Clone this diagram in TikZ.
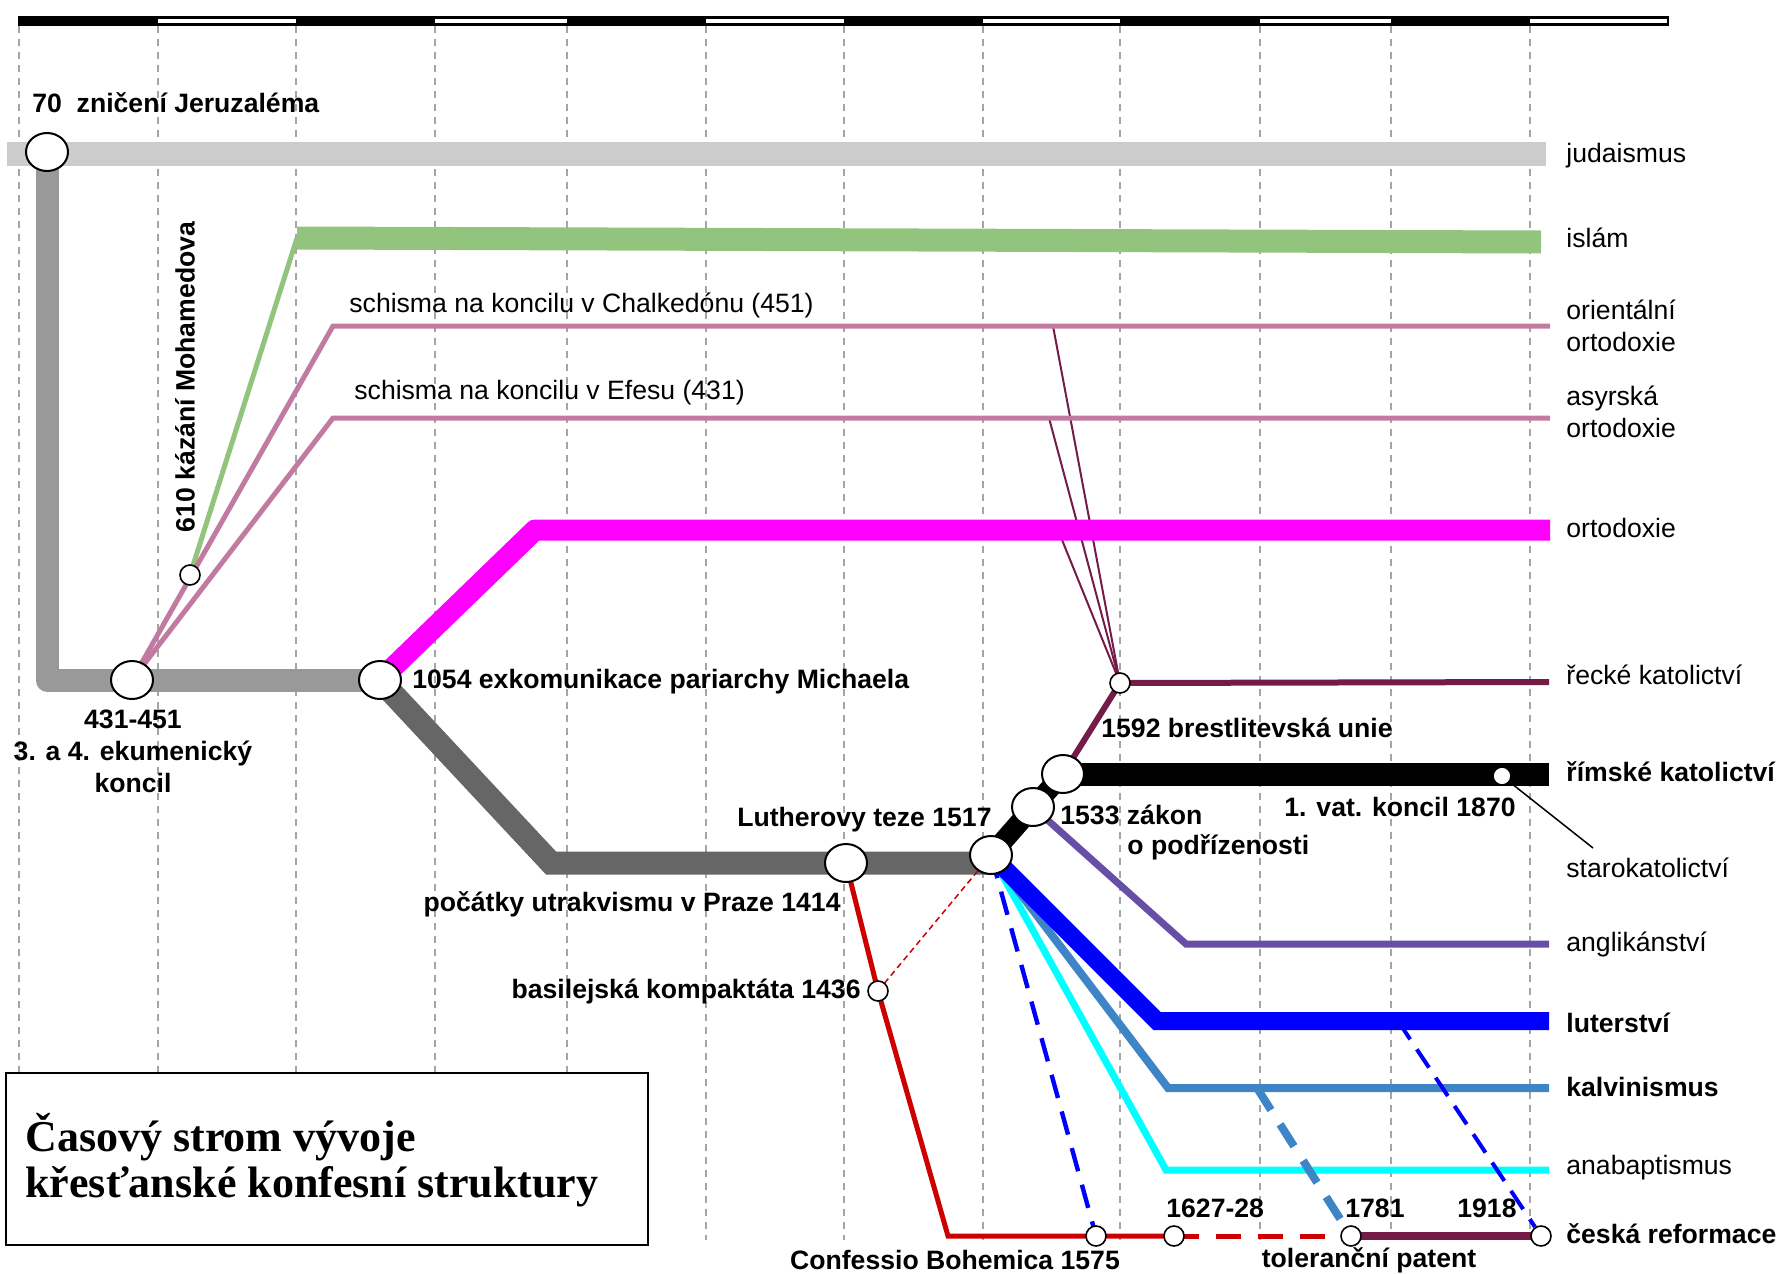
\documentclass[tikz,border=0pt]{standalone}
\usepackage{fontspec}
\setmainfont{Liberation Sans}
\newfontfamily\titlefont{Liberation Serif}
\usetikzlibrary{shapes.geometric,backgrounds}

\definecolor{judgray}{RGB}{204,204,204}
\definecolor{trunkgray}{RGB}{153,153,153}
\definecolor{westgray}{RGB}{102,102,102}
\definecolor{islamgreen}{RGB}{147,196,125}
\definecolor{orientpink}{RGB}{194,123,160}
\definecolor{orthmagenta}{RGB}{255,0,255}
\definecolor{unimaroon}{RGB}{116,27,71}
\definecolor{anglpurple}{RGB}{103,78,167}
\definecolor{lutblue}{RGB}{0,0,255}
\definecolor{kalvblue}{RGB}{61,133,198}
\definecolor{anacyan}{RGB}{0,255,255}
\definecolor{refred}{RGB}{204,0,0}
\definecolor{gridgray}{RGB}{165,165,165}

\begin{document}
\begin{tikzpicture}[x=0.5pt, y=-0.5pt, font=\fontsize{13.3}{16}\selectfont,
  big/.style={ellipse,draw,fill=white,line width=1pt,minimum width=21pt,minimum height=19pt,inner sep=0pt},
  small/.style={circle,draw,fill=white,line width=0.8pt,minimum size=10pt,inner sep=0pt},
  txt/.style={inner sep=0pt},
  btxt/.style={inner sep=0pt,font=\fontsize{13.3}{16}\selectfont\bfseries},
  gridln/.style={gridgray,line width=0.75pt,dash pattern=on 3.5pt off 3pt}]
\useasboundingbox (0,0) rectangle (1783,1274);

\coordinate (jl) at (7,154);
\coordinate (jr) at (1546,154);
\coordinate (bend) at (47,680);
\coordinate (g1) at (297,238);
\coordinate (g2) at (1541,242);
\coordinate (p1) at (333,326);
\coordinate (p1e) at (1550,326);
\coordinate (p2) at (333,418);
\coordinate (p2e) at (1550,418);
\coordinate (m1) at (535,530);
\coordinate (m1e) at (1550,530);
\coordinate (d1) at (551,863);
\coordinate (re) at (1549,774);
\coordinate (ue) at (1549,682);
\coordinate (t1) at (1053,326);
\coordinate (t2) at (1049,418);
\coordinate (t3) at (1058,530);
\coordinate (a1) at (1186,944);
\coordinate (ae) at (1549,944);
\coordinate (l1) at (1157,1021);
\coordinate (le) at (1549,1021);
\coordinate (k1) at (1168,1088);
\coordinate (ke) at (1549,1088);
\coordinate (b1) at (1166,1170);
\coordinate (be) at (1549,1170);
\coordinate (e1) at (948,1236);
\coordinate (kd) at (1257,1088);
\coordinate (ld) at (1398,1021);
\coordinate (s1) at (1593,848);

\draw[line width=1.2pt,fill=white] (19,17.5) rectangle (1668,24.5);
\foreach \a/\b in {19/158,296/435,567/706,844/983,1120/1260,1391/1530}
  \fill (\a,16) rectangle (\b,26);

\node[big] (n70) at (47,152) {};
\node[big] (n431) at (132,680) {};
\node[small] (n610) at (190,575) {};
\node[big] (n1054) at (380,680) {};
\node[big] (n1414) at (846,863) {};
\node[small] (n1436) at (878,991) {};
\node[big] (n1517) at (991,855) {};
\node[big] (n1533) at (1033,807) {};
\node[big] (nrome) at (1063,774) {};
\node[small] (n1592) at (1120,683) {};
\node[small,minimum size=9pt] (n1870) at (1502,776) {};
\node[small] (n1575) at (1096,1236) {};
\node[small] (n1627) at (1174,1236) {};
\node[small] (n1781) at (1351,1236) {};
\node[small] (n1918) at (1541,1236) {};

\begin{scope}[on background layer]
\foreach \gx in {19,158,296,435,567,706,844,983,1120,1260,1391,1530}
  \draw[gridln] (\gx,26) -- (\gx,1240);
\draw[judgray,line width=12pt] (jl) -- (jr);
\draw[trunkgray,line width=11.5pt,line join=round] (n70.center) -- (bend) -- (n1054.center);
\draw[unimaroon,line width=1pt] (n1592.center) -- (t1);
\draw[unimaroon,line width=1pt] (n1592.center) -- (t2);
\draw[unimaroon,line width=1pt] (n1592.center) -- (t3);
\draw[islamgreen,line width=2.5pt] (n610.center) -- (g1);
\draw[islamgreen,line width=11.5pt] (g1) -- (g2);
\draw[orientpink,line width=2.5pt] (n431.center) -- (p1) -- (p1e);
\draw[orientpink,line width=2.5pt] (n431.center) -- (p2) -- (p2e);
\draw[orthmagenta,line width=10.5pt,line join=round] (n1054.center) -- (m1) -- (m1e);
\draw[westgray,line width=11.5pt] (n1054.center) -- (d1) -- (d1 -| n1517);
\draw[unimaroon,line width=3pt] (nrome.center) -- (n1592.center) -- (ue);
\draw[line width=10pt] (n1517.center) -- (n1533.center) -- (nrome.center);
\draw[line width=11.5pt] (nrome.center) -- (re);
\draw[anglpurple,line width=3.5pt] (n1533.center) -- (a1) -- (ae);
\draw[anacyan,line width=3.5pt] (n1517.center) -- (b1) -- (be);
\draw[kalvblue,line width=4pt] (n1517.center) -- (k1) -- (ke);
\draw[lutblue,line width=9pt] (n1517.center) -- (l1) -- (le);
\draw[lutblue,line width=2.2pt,dash pattern=on 12pt off 7pt] (n1517.center) -- (n1575.center);
\draw[refred,line width=2.5pt] (n1414.center) -- (n1436.center) -- (e1) -- (n1575.center) -- (n1627.center);
\draw[refred,line width=2.5pt,dash pattern=on 12.5pt off 8.5pt] (n1627.center) -- (n1781.center);
\draw[unimaroon,line width=4pt] (n1781.center) -- (n1918.center);
\draw[refred,line width=0.75pt,dash pattern=on 3pt off 2pt] (n1436.center) -- (n1517.center);
\draw[kalvblue,line width=4pt,dash pattern=on 13pt off 8.5pt] (kd) -- (n1781);
\draw[lutblue,line width=2pt,dash pattern=on 11pt off 6pt] (ld) -- (n1918);
\draw[line width=0.75pt] (n1870) -- (s1);
\end{scope}

\draw[line width=1pt,fill=white] (6,1073) rectangle (648,1245);
\node[anchor=west,align=left,inner sep=0pt,font=\titlefont\bfseries\fontsize{22}{23}\selectfont] (title) at (25,1160) {Časový strom vývoje\\křesťanské konfesní struktury};

\node[btxt,anchor=west] (t70) at (32,103) {70\ \ zničení Jeruzaléma};
\node[btxt,rotate=90] (t610) at (185,377) {610 kázání Mohamedova};
\node[txt,anchor=west] (tchal) at (349,305) {schisma na koncilu v Chalkedónu (451)};
\node[txt,anchor=west] (tefes) at (354,393) {schisma na koncilu v Efesu (431)};
\node[btxt,align=center] (t431) at (133,751) {431-451\\3. a 4. ekumenický\\koncil};
\node[btxt,anchor=west] (t1054) at (412,682) {1054 exkomunikace pariarchy Michaela};
\node[btxt,anchor=west] (t1592) at (1101,728) {1592 brestlitevská unie};
\node[btxt,anchor=west] (t1533) at (1060,815) {1533 zákon};
\node[btxt,anchor=west] (t1533b) at (1127,847) {o podřízenosti};
\node[btxt,anchor=east] (t1870) at (1516,807) {1. vat. koncil 1870};
\node[btxt,anchor=east] (t1517) at (992,820) {Lutherovy teze 1517};
\node[btxt,anchor=east] (t1414) at (841,904) {počátky utrakvismu v Praze 1414};
\node[btxt,anchor=east] (t1436) at (861,991) {basilejská kompaktáta 1436};
\node[btxt] (t1575) at (955,1260) {Confessio Bohemica 1575};
\node[btxt,anchor=west] (t1627) at (1166,1208) {1627-28};
\node[btxt,anchor=west] (t1781) at (1345,1208) {1781};
\node[btxt,anchor=west] (t1918) at (1457,1208) {1918};
\node[btxt] (ttol) at (1369,1260) {toleranční patent};

\node[txt,anchor=west] (rjud) at (1566,156) {judaismus};
\node[txt,anchor=west] (risl) at (1566,238) {islám};
\node[txt,anchor=west,align=left] (rori) at (1566,326) {orientální\\ortodoxie};
\node[txt,anchor=west,align=left] (rasy) at (1566,412) {asyrská\\ortodoxie};
\node[txt,anchor=west] (rort) at (1566,528) {ortodoxie};
\node[txt,anchor=west] (rrec) at (1566,675) {řecké katolictví};
\node[btxt,anchor=west] (rrim) at (1566,772) {římské katolictví};
\node[txt,anchor=west] (rsta) at (1566,868) {starokatolictví};
\node[txt,anchor=west] (rang) at (1566,944) {anglikánství};
\node[btxt,anchor=west] (rlut) at (1566,1023) {luterství};
\node[btxt,anchor=west] (rkal) at (1566,1087) {kalvinismus};
\node[txt,anchor=west] (rana) at (1566,1168) {anabaptismus};
\node[btxt,anchor=west] (rces) at (1566,1234) {česká reformace};
\end{tikzpicture}
\end{document}
